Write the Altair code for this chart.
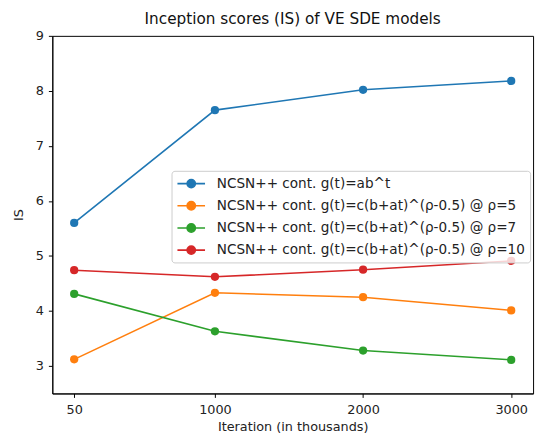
import altair as alt
import pandas as pd

iterations = [50, 1000, 2000, 3000]
series_names = [
    "NCSN++ cont. g(t)=ab^t",
    "NCSN++ cont. g(t)=c(b+at)^(ρ-0.5) @ ρ=5",
    "NCSN++ cont. g(t)=c(b+at)^(ρ-0.5) @ ρ=7",
    "NCSN++ cont. g(t)=c(b+at)^(ρ-0.5) @ ρ=10",
]
blue_vals = [5.60, 7.65, 8.02, 8.18]
orange_vals = [3.12, 4.33, 4.25, 4.01]
green_vals = [4.31, 3.63, 3.28, 3.11]
red_vals = [4.74, 4.62, 4.75, 4.91]
colors = ["#1f77b4", "#ff7f0e", "#2ca02c", "#d62728"]

rows = []
for name, vals in zip(series_names, [blue_vals, orange_vals, green_vals, red_vals]):
    for it, v in zip(iterations, vals):
        rows.append({"Iteration": it, "IS": v, "Model": name})
df = pd.DataFrame(rows)

font = "DejaVu Sans"
# line through a filled circle, shifted right inside the path itself
legend_symbol = "M-1,0L3,0M0.4,0a0.6,0.6 0 1,0 1.2,0a0.6,0.6 0 1,0 -1.2,0"

chart = alt.Chart(df).mark_line(
    strokeWidth=1.6,
    point=alt.OverlayMarkDef(filled=True, size=70, opacity=1),
).encode(
    x=alt.X("Iteration:Q", scale=alt.Scale(domain=[-97.5, 3147.5], nice=False, zero=False),
            axis=alt.Axis(values=iterations, format="d", title="Iteration (in thousands)",
                          grid=False, labelPadding=6, titlePadding=5)),
    y=alt.Y("IS:Q", scale=alt.Scale(domain=[2.5, 9], nice=False, zero=False),
            axis=alt.Axis(values=[3, 4, 5, 6, 7, 8, 9], title="IS", grid=False,
                          labelPadding=5, titlePadding=10)),
    color=alt.Color("Model:N", sort=series_names,
                    scale=alt.Scale(domain=series_names, range=colors),
                    legend=alt.Legend(
                        title=None, orient="none", legendX=121, legendY=137,
                        symbolType=legend_symbol, symbolSize=196, symbolStrokeWidth=1.6,
                        labelOffset=25,
                        labelFont=font, labelFontSize=13.8, labelColor="#222",
                        rowPadding=6.5, padding=5, strokeColor="#cccccc",
                        fillColor="rgba(255,255,255,0.8)", cornerRadius=3, labelLimit=400,
                    )),
    order=alt.Order("Iteration:Q"),
).properties(
    width=488, height=363,
    title=alt.TitleParams("Inception scores (IS) of VE SDE models", font=font,
                          fontSize=15.5, fontWeight="normal", color="#111", offset=3),
    padding={"left": 45, "top": 25, "right": 5, "bottom": 46},
    autosize=alt.AutoSizeParams(type="none"),
).configure_view(
    stroke="black", strokeWidth=1
).configure_axis(
    domainColor="black", tickColor="black", tickSize=4,
    labelFont=font, labelFontSize=13, labelColor="#222",
    titleFont=font, titleFontSize=13, titleColor="#222", titleFontWeight="normal",
)

chart.save("out.html", embed_options={"renderer": "svg", "actions": False})
